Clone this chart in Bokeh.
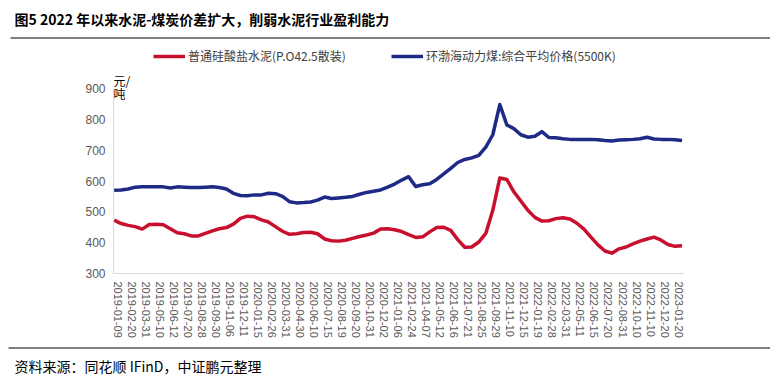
from bokeh.plotting import figure
from bokeh.models import Label, Range1d, FixedTicker, Legend, LegendItem
from bokeh.layouts import column
from bokeh.core.properties import value
from bokeh.embed import file_html
from bokeh.resources import INLINE

# ---------------- data ----------------
tick_labels = [
    "2019-01-09", "2019-02-20", "2019-03-31", "2019-05-10", "2019-06-12", "2019-07-20",
    "2019-08-28", "2019-09-30", "2019-11-06", "2019-12-11", "2020-01-15", "2020-02-26",
    "2020-03-31", "2020-04-30", "2020-06-10", "2020-07-15", "2020-08-19", "2020-09-20",
    "2020-10-31", "2020-12-02", "2021-01-06", "2021-02-24", "2021-04-07", "2021-05-12",
    "2021-06-16", "2021-07-21", "2021-08-25", "2021-09-29", "2021-11-10", "2021-12-15",
    "2022-01-19", "2022-02-28", "2022-03-31", "2022-05-11", "2022-06-15", "2022-07-20",
    "2022-08-31", "2022-10-10", "2022-11-10", "2022-12-20", "2023-01-20",
]

cement_price = [
    473, 462, 456, 452, 444, 459, 460, 458, 445, 432,
    429, 422, 422, 430, 438, 445, 449, 460, 479, 486,
    484, 474, 467, 452, 437, 427, 429, 433, 434, 429,
    412, 406, 405, 408, 414, 420, 425, 431, 444, 445,
    442, 436, 426, 417, 419, 435, 449, 450, 440, 410,
    385, 386, 402, 430, 505, 610, 605, 565, 535, 505,
    482, 470, 471, 478, 481, 477, 463, 444, 418, 393,
    373, 366, 380, 386, 396, 405, 412, 418, 408, 394,
    388, 390,
]

coal_price = [
    570, 571, 574, 580, 581, 581, 581, 581, 577, 581,
    580, 579, 579, 580, 581, 579, 574, 560, 553, 552,
    555, 555, 560, 559, 550, 533, 529, 530, 532, 538,
    548, 543, 545, 547, 550, 557, 563, 567, 571, 580,
    590, 603, 614, 582, 588, 591, 605, 623, 641, 660,
    670, 675, 683, 710, 750, 848, 782, 770, 750, 742,
    745, 760, 741, 740, 737, 735, 735, 735, 735, 734,
    731, 730, 733, 734, 735, 737, 742, 736, 735, 735,
    734, 731,
]

y_ticks = [300, 400, 500, 600, 700, 800, 900]

series_names = ["普通硅酸盐水泥(P.O42.5散装)", "环渤海动力煤:综合平均价格(5500K)"]
title_text = "图5  2022 年以来水泥-煤炭价差扩大，削弱水泥行业盈利能力"
unit_text = ["元/", "吨"]
source_text = "资料来源：同花顺 IFinD，中证鹏元整理"

# positions along the label axis: two observations per label interval
xs = [-0.25 + 0.5 * k for k in range(len(cement_price))]

CN = "Noto Sans CJK SC"
AX = "Liberation Sans"
red = "#C8102E"
blue = "#1F2A87"
W = 770


def blank(h):
    f = figure(width=W, height=h, output_backend="svg", toolbar_location=None,
               x_range=Range1d(0, W), y_range=Range1d(h, 0),
               x_axis_type=None, y_axis_type=None, frame_align=False,
               min_border=0, min_border_left=0, min_border_right=0,
               min_border_top=0, min_border_bottom=0)
    f.outline_line_color = None
    f.xgrid.grid_line_color = None
    f.ygrid.grid_line_color = None
    f.background_fill_color = "white"
    f.border_fill_color = "white"
    return f


# ---------------- header: title, rule, legend ----------------
HH = 70
head = blank(HH)
head.text(x=[14], y=[18], text=[title_text], text_font=value(CN),
          text_font_size="14px", text_font_style="bold", text_color="black",
          text_baseline="middle", text_align="left")
head.line(x=[10, 770], y=[37.5, 37.5], line_color="black", line_width=1)

g1 = head.line(x=[-20, -10], y=[-20, -20], line_color=red, line_width=3.5)
g2 = head.line(x=[-20, -10], y=[-20, -20], line_color=blue, line_width=3.5)
for rend, name, lx in ((g1, series_names[0], 153), (g2, series_names[1], 391)):
    lg = Legend(items=[LegendItem(label=name, renderers=[rend])],
                location=(lx, HH - 64), orientation="horizontal",
                glyph_width=32, glyph_height=14, label_standoff=3,
                padding=0, margin=0, border_line_color=None,
                background_fill_alpha=0,
                label_text_font=CN, label_text_font_size="12px",
                label_text_color="#404040", label_height=14)
    head.add_layout(lg, "center")

# ---------------- main chart ----------------
MT, MB = HH, 346                      # page rows covered by the main figure
FL, FT, FR, FB = 113, 72, 683, 273    # frame edges (page px)
Y900 = 88                             # page row of the 900 tick
y_lo, y_hi = y_ticks[0], y_ticks[-1]
y_top = y_lo + (y_hi - y_lo) * (FB - FT) / (FB - Y900)

p = figure(width=W, height=MB - MT, output_backend="svg", toolbar_location=None,
           x_range=Range1d(-0.3, 40.35), y_range=Range1d(y_lo, y_top),
           frame_align=False,
           min_border_left=FL, min_border_right=W - FR,
           min_border_top=FT - MT, min_border_bottom=MB - FB)
p.outline_line_color = None
p.background_fill_color = "white"
p.border_fill_color = "white"
p.xgrid.grid_line_color = None
p.ygrid.grid_line_color = None

p.yaxis.ticker = FixedTicker(ticks=y_ticks)
p.yaxis.bounds = (y_lo, y_hi)
p.yaxis.axis_line_color = "#d9d9d9"
p.yaxis.major_tick_line_color = None
p.yaxis.minor_tick_line_color = None
p.yaxis.major_tick_out = 0
p.yaxis.major_tick_in = 0
p.yaxis.major_label_text_font = AX
p.yaxis.major_label_text_font_size = "12px"
p.yaxis.major_label_text_color = "#595959"
p.yaxis.major_label_standoff = 8

p.xaxis.ticker = FixedTicker(ticks=list(range(len(tick_labels))))
p.xaxis.major_label_overrides = {i: s for i, s in enumerate(tick_labels)}
p.xaxis.major_label_orientation = "vertical"
p.xaxis.axis_line_color = "#d9d9d9"
p.xaxis.major_tick_line_color = None
p.xaxis.minor_tick_line_color = None
p.xaxis.major_tick_out = 0
p.xaxis.major_tick_in = 0
p.xaxis.major_label_text_font = AX
p.xaxis.major_label_text_font_size = "11px"
p.xaxis.major_label_text_color = "#595959"
p.xaxis.major_label_standoff = 8

p.line(xs, cement_price, line_color=red, line_width=3.5, line_join="round")
p.line(xs, coal_price, line_color=blue, line_width=3.5, line_join="round")

# unit label (two lines) at the top-left corner of the frame
fh = FB - FT
p.add_layout(Label(x=0, y=fh - 8, x_units="screen", y_units="screen",
                   text=unit_text[0], text_font=CN, text_font_size="12px",
                   text_color="black", text_baseline="middle", text_align="left"))
p.add_layout(Label(x=0, y=fh - 21, x_units="screen", y_units="screen",
                   text=unit_text[1], text_font=CN, text_font_size="12px",
                   text_color="black", text_baseline="middle", text_align="left"))

# ---------------- footer ----------------
FH = 32
foot = blank(FH)
foot.line(x=[8, 770], y=[1.5, 1.5], line_color="black", line_width=1)
foot.text(x=[14], y=[19], text=[source_text], text_font=value(CN),
          text_font_size="14px", text_color="black",
          text_baseline="middle", text_align="left")

layout = column(head, p, foot, spacing=0)
open("out.html", "w").write(file_html(layout, INLINE))
